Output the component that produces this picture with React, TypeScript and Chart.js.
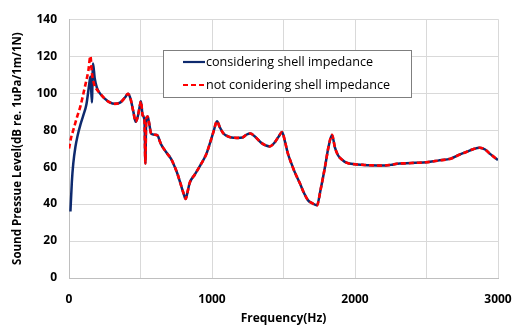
import React, { useEffect, useRef } from "react";
import { Chart, registerables } from "chart.js";

Chart.register(...registerables);

const seriesNames = ["considering shell impedance", "not conidering shell impedance"];

const blueFreq = [10, 20, 30, 45, 60, 80, 100, 122, 140, 150, 160, 168, 180, 195, 215, 250, 285, 320, 360, 390, 413, 430, 450, 466, 480, 495, 503, 515, 528, 534, 540, 550, 560, 575, 600, 620, 635, 646, 680, 716, 740, 760, 780, 800, 816, 826, 844, 880, 926, 960, 984, 1010, 1035, 1055, 1077, 1100, 1136, 1175, 1213, 1240, 1268, 1300, 1345, 1404, 1440, 1470, 1490, 1510, 1530, 1555, 1580, 1613, 1640, 1672, 1700, 1734, 1760, 1790, 1815, 1839, 1860, 1881, 1910, 1940, 2000, 2056, 2100, 2196, 2250, 2313, 2336, 2420, 2499, 2580, 2674, 2730, 2779, 2830, 2872, 2910, 2942, 3000];
const blueLevel = [36, 52, 62, 71, 77, 83, 88, 94, 104, 109, 95, 116, 108, 103, 100, 97, 95, 94.2, 95, 97.5, 99.7, 97, 90, 84.5, 87, 93, 95.6, 88, 85, 62, 86, 87.4, 84, 78, 77.5, 77, 74, 72, 68, 64.2, 60, 56, 51, 46, 42.8, 45.5, 51.5, 56, 62, 67, 72.5, 79, 84.8, 81.5, 78.5, 77, 76, 75.8, 76, 77.5, 78.2, 76.5, 73.1, 71.2, 73.5, 77, 79, 74, 67.5, 62, 57, 51.5, 46.5, 42, 40.5, 39.3, 48, 60, 71, 77.4, 70.5, 66.4, 64, 62.4, 61.5, 61.2, 61, 60.8, 61.2, 62, 62, 62.3, 62.6, 63.5, 64.7, 66.7, 68.2, 69.8, 70.5, 69.5, 67.3, 63.8];

const redFreq = [0, 15, 30, 56, 80, 110, 135, 150, 160, 175, 190, 215, 250, 285, 320, 360, 390, 413, 430, 450, 466, 480, 495, 503, 515, 528, 534, 540, 550, 560, 575, 600, 620, 635, 646, 680, 716, 740, 760, 780, 800, 816, 826, 844, 880, 926, 960, 984, 1010, 1035, 1055, 1077, 1100, 1136, 1175, 1213, 1240, 1268, 1300, 1345, 1404, 1440, 1470, 1490, 1510, 1530, 1555, 1580, 1613, 1640, 1672, 1700, 1734, 1760, 1790, 1815, 1839, 1860, 1881, 1910, 1940, 2000, 2056, 2100, 2196, 2250, 2313, 2336, 2420, 2499, 2580, 2674, 2730, 2779, 2830, 2872, 2910, 2942, 3000];
const redLevel = [70, 76, 80, 87, 93, 103, 112, 120, 111, 105, 102.5, 100, 97, 95, 94.2, 95, 97.5, 99.7, 97, 90, 84.5, 87, 93, 95.6, 88, 85, 62, 86, 87.4, 84, 78, 77.5, 77, 74, 72, 68, 64.2, 60, 56, 51, 46, 42.8, 45.5, 51.5, 56, 62, 67, 72.5, 79, 84.8, 81.5, 78.5, 77, 76, 75.8, 76, 77.5, 78.2, 76.5, 73.1, 71.2, 73.5, 77, 79, 74, 67.5, 62, 57, 51.5, 46.5, 42, 40.5, 39.3, 48, 60, 71, 77.4, 70.5, 66.4, 64, 62.4, 61.5, 61.2, 61, 60.8, 61.2, 62, 62, 62.3, 62.6, 63.5, 64.7, 66.7, 68.2, 69.8, 70.5, 69.5, 67.3, 63.8];

const xTitle = "Frequency(Hz)";
const yTitle = "Sound Pressue Level(dB re. 1uPa/1m/1N)";

const BLUE = "#0E2A6E";
const RED = "#FF0000";
const FONT = "'Open Sans', 'DejaVu Sans', sans-serif";

const legendPlugin = {
  id: "boxLegend",
  afterDraw(chart: any) {
    const ctx = chart.ctx;
    ctx.save();
    ctx.strokeStyle = "#7F7F7F";
    ctx.lineWidth = 1;
    ctx.fillStyle = "#FFFFFF";
    ctx.fillRect(163.5, 50.5, 248, 47);
    ctx.strokeRect(163.5, 50.5, 248, 47);
    const rows = [
      { y: 62, color: BLUE, dash: [] as number[] },
      { y: 85, color: RED, dash: [5, 3] },
    ];
    rows.forEach((r, i) => {
      ctx.beginPath();
      ctx.setLineDash(r.dash);
      ctx.strokeStyle = r.color;
      ctx.lineWidth = 2.2;
      ctx.moveTo(183, r.y);
      ctx.lineTo(205, r.y);
      ctx.stroke();
      ctx.setLineDash([]);
      ctx.fillStyle = "#000000";
      ctx.font = `12.6px ${FONT}`;
      ctx.textBaseline = "middle";
      ctx.textAlign = "left";
      ctx.fillText(seriesNames[i], 206, r.y);
    });
    ctx.restore();
  },
};

export default function App() {
  const ref = useRef<HTMLCanvasElement | null>(null);
  useEffect(() => {
    document.body.style.margin = "0";
    const canvas = ref.current;
    if (!canvas) return;
    const chart = new Chart(canvas, {
      type: "line",
      data: {
        datasets: [
          {
            label: seriesNames[0],
            data: blueFreq.map((f, i) => ({ x: f, y: blueLevel[i] })),
            borderColor: BLUE,
            backgroundColor: BLUE,
            borderWidth: 2.5,
            pointRadius: 0,
            cubicInterpolationMode: "monotone",
            order: 2,
          },
          {
            label: seriesNames[1],
            data: redFreq.map((f, i) => ({ x: f, y: redLevel[i] })),
            borderColor: RED,
            backgroundColor: RED,
            borderWidth: 2.6,
            borderDash: [5, 3],
            pointRadius: 0,
            cubicInterpolationMode: "monotone",
            order: 1,
          },
        ],
      },
      options: {
        animation: false,
        responsive: false,
        devicePixelRatio: 1,
        layout: { padding: { left: 0, right: 30, top: 12, bottom: 0 } },
        plugins: { legend: { display: false }, tooltip: { enabled: false } },
        scales: {
          x: {
            type: "linear",
            min: 0,
            max: 3000,
            grid: { color: "#D9D9D9", lineWidth: 1, drawTicks: false },
            border: { color: "#BFBFBF" },
            ticks: {
              stepSize: 500,
              autoSkip: false,
              maxRotation: 0,
              padding: 14,
              color: "#000",
              font: { family: FONT, size: 12, weight: "bold" },
              callback: (v: any) => (Number(v) % 1000 === 0 ? String(v) : ""),
            },
            title: {
              display: true,
              text: xTitle,
              color: "#000",
              font: { family: FONT, size: 12, weight: "bold" },
              padding: { top: 0, bottom: 0 },
            },
            afterFit: (s: any) => {
              s.height = 48;
            },
          },
          y: {
            min: 0,
            max: 140,
            grid: { color: "#D9D9D9", lineWidth: 1, drawTicks: false },
            border: { color: "#BFBFBF" },
            ticks: {
              stepSize: 20,
              padding: 12,
              color: "#000",
              font: { family: FONT, size: 12, weight: "bold" },
            },
            title: {
              display: true,
              text: yTitle,
              color: "#000",
              font: { family: FONT, size: 11.5, weight: "bold" },
              padding: { top: 11, bottom: 0 },
            },
            afterFit: (s: any) => {
              s.width = 69;
            },
          },
        },
      },
      plugins: [legendPlugin],
    } as any);
    return () => chart.destroy();
  }, []);
  return (
    <div style={{ position: "fixed", left: 0, top: 0, width: 528, height: 326, background: "#fff" }}>
      <canvas ref={ref} width={528} height={326} />
    </div>
  );
}
